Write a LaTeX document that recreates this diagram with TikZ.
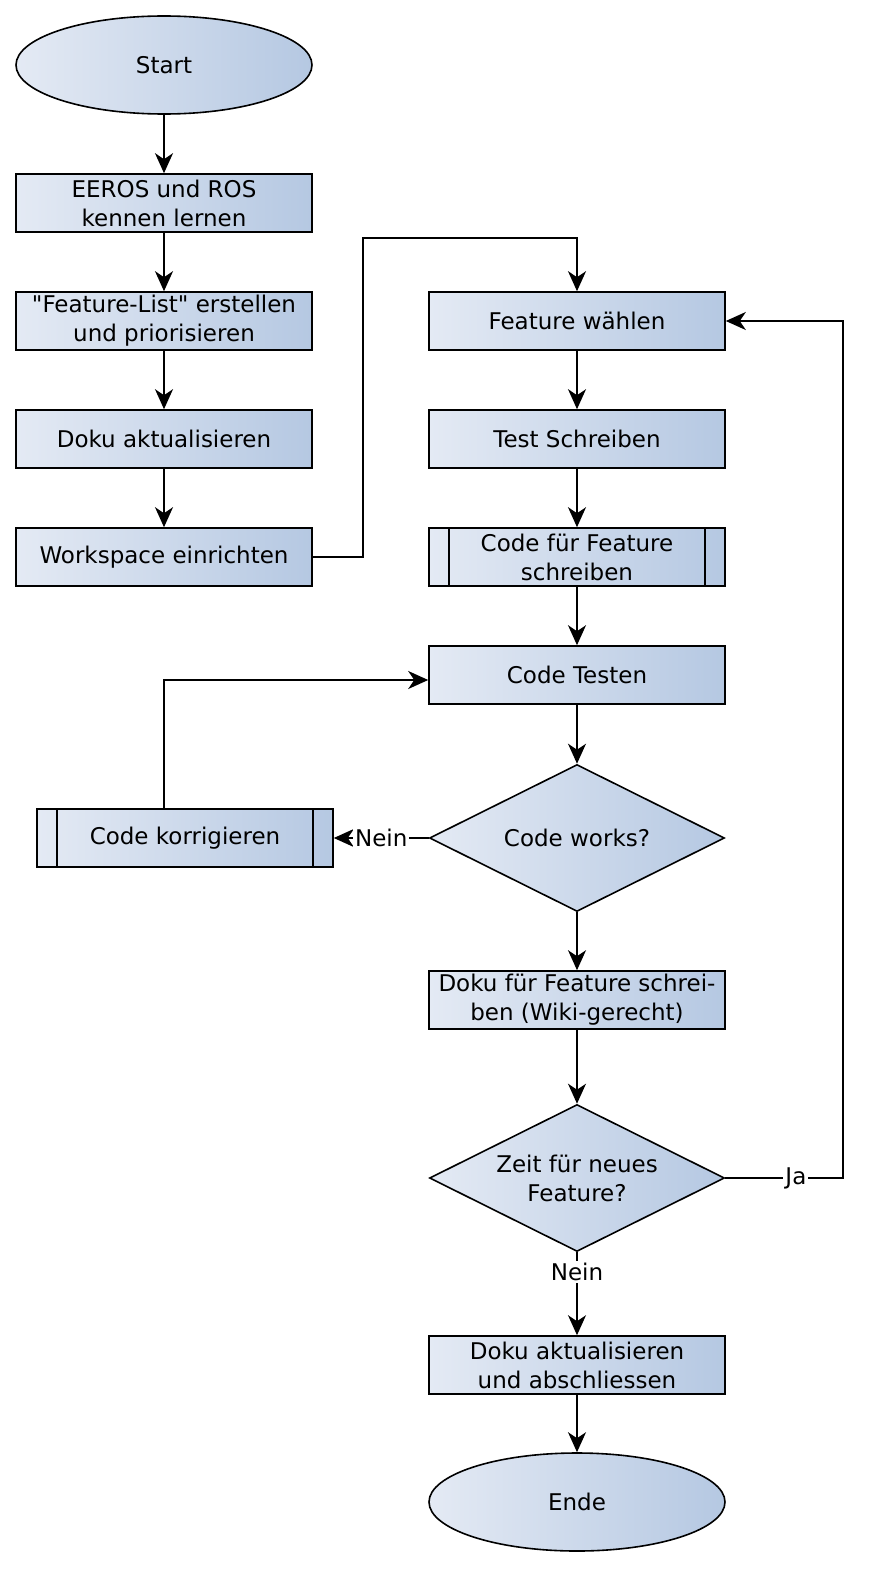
\documentclass[tikz,border=0pt]{standalone}
\usepackage{fontspec}
\setmainfont{DejaVu Sans}[Ligatures=TeXOff]
\usetikzlibrary{shapes.geometric}
\usetikzlibrary{arrows.meta}
\definecolor{shadeL}{HTML}{E4EAF4}
\definecolor{shadeR}{HTML}{B5C8E2}

\begin{document}
\begin{tikzpicture}[x=1pt, y=-1pt, line width=1.6pt,
  >={Stealth[length=20pt, width=18pt, inset=6pt]},
  font=\fontsize{23}{29}\selectfont,
  blk/.style={draw, left color=shadeL, right color=shadeR, align=center, inner sep=0pt},
  proc/.style={blk, rectangle, minimum width=296pt, minimum height=58pt},
  subproc/.style={proc, path picture={
    \draw ([xshift=20pt]path picture bounding box.north west) -- ([xshift=20pt]path picture bounding box.south west);
    \draw ([xshift=-20pt]path picture bounding box.north east) -- ([xshift=-20pt]path picture bounding box.south east);}},
  term/.style={blk, ellipse, minimum width=296pt, minimum height=98pt},
  decision/.style={blk, diamond, aspect=2, minimum width=295pt, minimum height=147pt},
  lbl/.style={fill=white, inner sep=2pt}]

\useasboundingbox (0,0) rectangle (874,1592);

\node[term] (start) at (164,65) {Start};
\node[proc] (eeros) at (164,203) {EEROS und ROS\\kennen lernen};
\node[proc] (flist) at (164,321) {"Feature-List" erstellen\\und priorisieren};
\node[proc] (doku1) at (164,439) {Doku aktualisieren};
\node[proc] (wspace) at (164,557) {Workspace einrichten};

\node[proc] (wahl) at (577,321) {Feature wählen};
\node[proc] (test) at (577,439) {Test Schreiben};
\node[subproc] (code) at (577,557) {Code für Feature\\schreiben};
\node[proc] (testen) at (577,675) {Code Testen};
\node[decision] (works) at (577,838) {Code works?};
\node[subproc] (korr) at (185,838) {Code korrigieren};
\node[proc] (doku2) at (577,1000) {Doku für Feature schrei-\\ben (Wiki-gerecht)};
\node[decision] (zeit) at (577,1178) {Zeit für neues\\Feature?};
\node[proc] (doku3) at (577,1365) {Doku aktualisieren\\und abschliessen};
\node[term] (ende) at (577,1502) {Ende};

\coordinate (k1) at (363,238);
\coordinate (k2) at (843,1178);

\draw[->] (start) -- (eeros);
\draw[->] (eeros) -- (flist);
\draw[->] (flist) -- (doku1);
\draw[->] (doku1) -- (wspace);
\draw[->] (wspace.east) -| (k1) -| (wahl.north);

\draw[->] (wahl) -- (test);
\draw[->] (test) -- (code);
\draw[->] (code) -- (testen);
\draw[->] (testen) -- (works);
\draw[->] (works.west) -- node[lbl]{Nein} (korr.east);
\draw[->] (korr.north -| start) |- ([yshift=-5pt]testen.west);
\draw[->] (works) -- (doku2);
\draw[->] (doku2) -- (zeit);
\draw[->] (zeit.east) -- node[lbl, pos=0.6]{Ja} (k2) |- (wahl.east);
\draw[->] (zeit.south) -- node[lbl, pos=0.24]{Nein} (doku3.north);
\draw[->] (doku3) -- (ende);

\end{tikzpicture}
\end{document}
